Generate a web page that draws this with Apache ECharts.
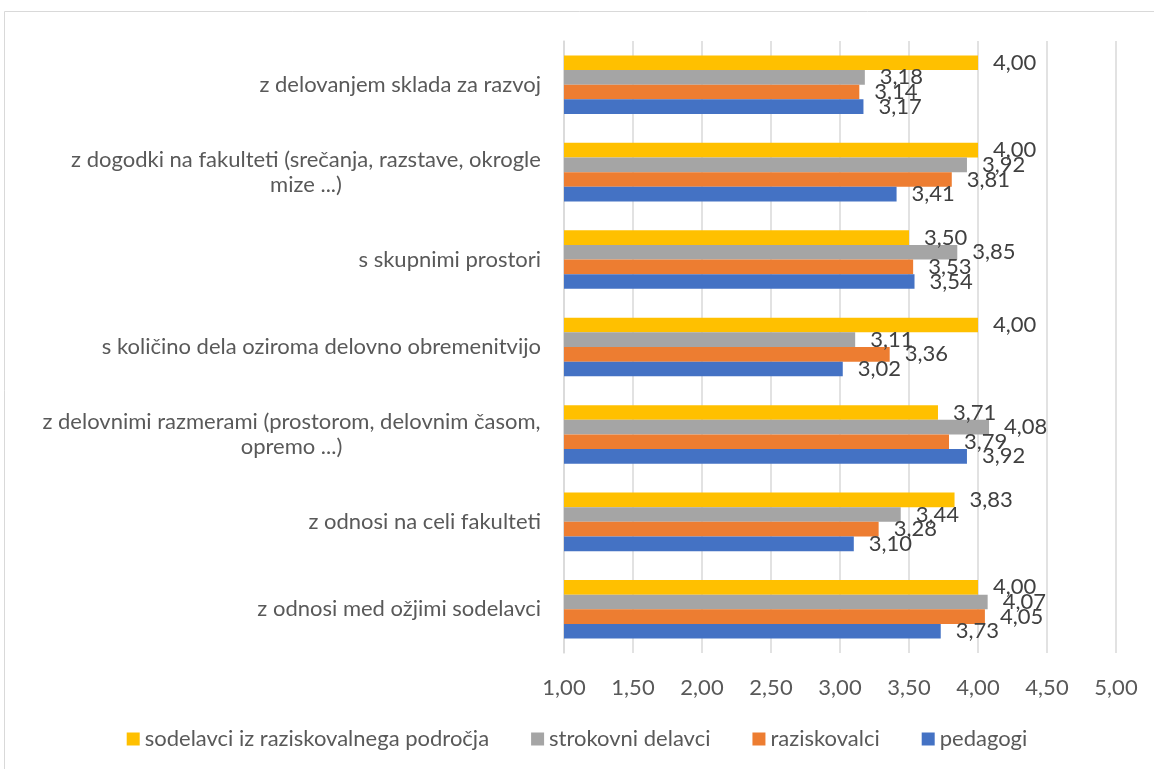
<!DOCTYPE html>
<html>
<head>
<meta charset="utf-8">
<script src="https://cdn.jsdelivr.net/npm/echarts@6/dist/echarts.min.js"></script>
<style>
  html, body { margin: 0; padding: 0; background: #fff; }
  #chart { width: 1154px; height: 769px; }
</style>
</head>
<body>
<div id="chart"></div>
<script>
// categories listed bottom -> top (value axis is not inverted)
var categories = [
  'z odnosi med ožjimi sodelavci',
  'z odnosi na celi fakulteti',
  'z delovnimi razmerami (prostorom, delovnim časom,\nopremo ...)',
  's količino dela oziroma delovno obremenitvijo',
  's skupnimi prostori',
  'z dogodki na fakulteti (srečanja, razstave, okrogle\nmize ...)',
  'z delovanjem sklada za razvoj'
];
var pedagogi     = [3.73, 3.10, 3.92, 3.02, 3.54, 3.41, 3.17];
var raziskovalci = [4.05, 3.28, 3.79, 3.36, 3.53, 3.81, 3.14];
var strokovni    = [4.07, 3.44, 4.08, 3.11, 3.85, 3.92, 3.18];
var sodelavci    = [4.00, 3.83, 3.71, 4.00, 3.50, 4.00, 4.00];
var xTicks = [1, 1.5, 2, 2.5, 3, 3.5, 4, 4.5, 5];

var FONT = 'Lato';
var SIZE = 22;
var fmt = function (v) { return v.toFixed(2).replace('.', ','); };

// width of the first line, so the second line can be centred under it
var ctx = document.createElement('canvas').getContext('2d');
ctx.font = SIZE + 'px ' + FONT;
var richStyles = {};
var richKey = {};
categories.forEach(function (c, i) {
  if (c.indexOf('\n') < 0) return;
  var w = Math.ceil(ctx.measureText(c.split('\n')[0]).width);
  richKey[c] = 'm' + i;
  richStyles['m' + i] = {
    color: '#595959', fontSize: SIZE, fontFamily: FONT,
    width: w, align: 'center', lineHeight: 25
  };
});

var chart = echarts.init(document.getElementById('chart'));

function bar(name, data, color) {
  return {
    name: name,
    type: 'bar',
    data: data,
    itemStyle: { color: color },
    barGap: '0%',
    barCategoryGap: '33%',
    label: {
      show: true,
      position: 'right',
      distance: 15,
      color: '#404040',
      fontFamily: FONT,
      fontSize: SIZE,
      formatter: function (p) { return fmt(p.value); }
    }
  };
}

var option = {
  backgroundColor: '#fff',
  animation: false,
  textStyle: { fontFamily: FONT },
  graphic: [{
    type: 'rect',
    shape: { x: 4.5, y: 11.5, width: 1160, height: 770 },
    style: { fill: 'none', stroke: '#D9D9D9', lineWidth: 1 },
    silent: true
  }],
  grid: { left: 564, right: 38, top: 41, bottom: 116 },
  legend: {
    bottom: 14,
    left: 'center',
    itemWidth: 13,
    itemHeight: 13,
    itemGap: 42,
    icon: 'rect',
    textStyle: { color: '#595959', fontSize: SIZE, fontFamily: FONT },
    data: ['sodelavci iz raziskovalnega področja', 'strokovni delavci', 'raziskovalci', 'pedagogi']
  },
  xAxis: {
    type: 'value',
    min: 1,
    max: 5,
    interval: 0.5,
    axisLine: { show: false },
    axisTick: { show: false },
    splitLine: { lineStyle: { color: '#D9D9D9', width: 1.5 } },
    axisLabel: {
      color: '#595959',
      fontSize: SIZE,
      fontFamily: FONT,
      margin: 24,
      formatter: function (v) { return xTicks.indexOf(v) >= 0 ? fmt(v) : ''; }
    }
  },
  yAxis: {
    type: 'category',
    data: categories,
    axisLine: { show: true, lineStyle: { color: '#D9D9D9', width: 1.5 } },
    axisTick: { show: false },
    axisLabel: {
      interval: 0,
      color: '#595959',
      fontSize: SIZE,
      fontFamily: FONT,
      margin: 23,
      formatter: function (v) {
        return richKey[v] ? '{' + richKey[v] + '|' + v + '}' : v;
      },
      rich: richStyles
    }
  },
  series: [
    bar('sodelavci iz raziskovalnega področja', sodelavci, '#FFC000'),
    bar('strokovni delavci', strokovni, '#A5A5A5'),
    bar('raziskovalci', raziskovalci, '#ED7D31'),
    bar('pedagogi', pedagogi, '#4472C4')
  ]
};

chart.setOption(option);
</script>
</body>
</html>
